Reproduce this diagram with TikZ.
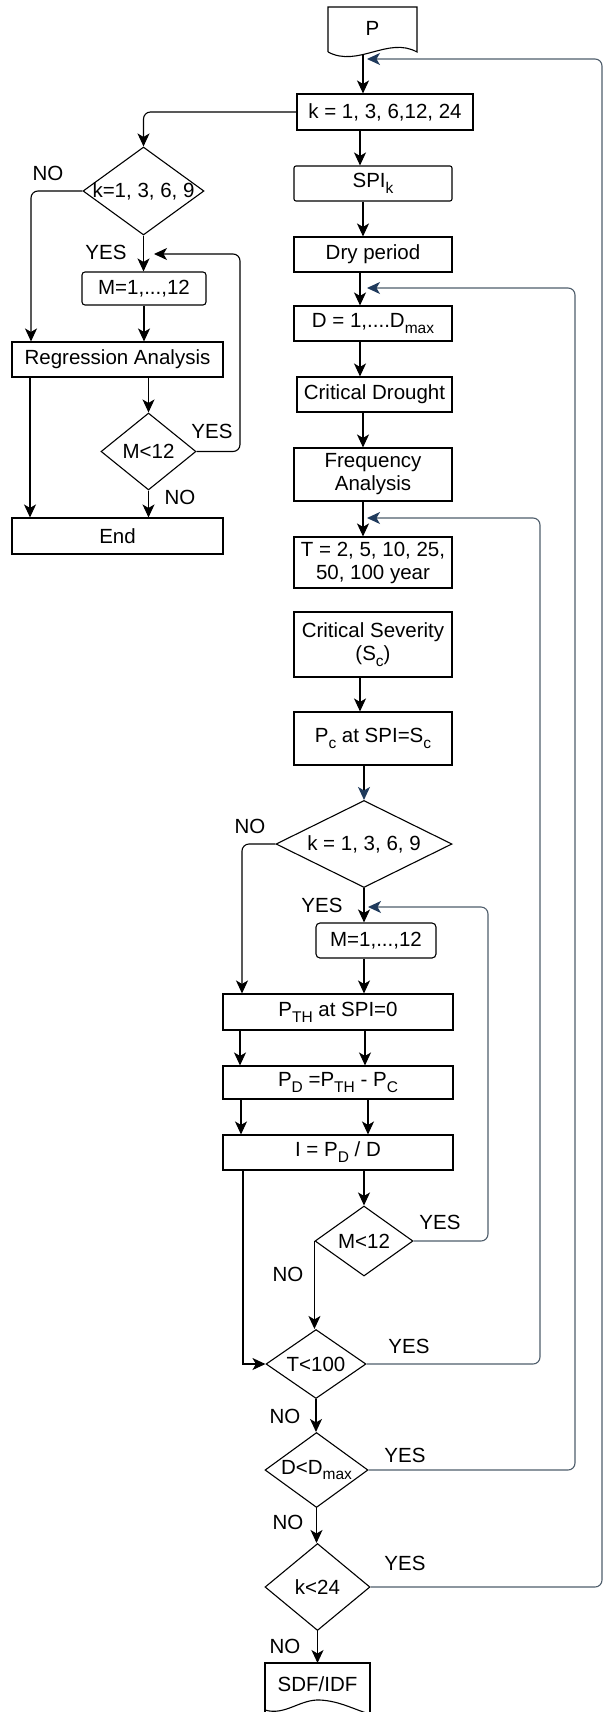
\documentclass[tikz,border=0pt]{standalone}
\usepackage{fontspec}
\setmainfont{Liberation Sans}
\usetikzlibrary{arrows.meta,shapes.geometric}
\definecolor{loopcol}{HTML}{4E5D6B}
\definecolor{tipcol}{HTML}{1F3A5C}
\newcommand{\lowsub}[1]{\raisebox{-0.55ex}{\fontsize{15.5}{15.5}\selectfont #1}}
\tikzset{
 base/.style={font=\fontsize{20.5}{23}\selectfont, inner sep=0pt, align=center},
 box/.style={base, draw, line width=1.1pt, rectangle},
 rbox/.style={box, rounded corners=3pt},
 dia/.style={base, draw, line width=1.1pt, diamond, shape aspect=1},
 lbl/.style={base},
 arr/.style={line width=1.1pt, -{Stealth[length=13pt,width=12pt,inset=3.5pt]}},
 bluearr/.style={line width=1.1pt, -{Stealth[length=13pt,width=12pt,inset=3.5pt,color=tipcol]}},
 loopln/.style={line width=1.1pt, draw=loopcol, rounded corners=7pt, -{Stealth[length=13pt,width=12pt,inset=3.5pt,color=tipcol]}},
 docline/.style={line width=1.1pt},
}
\begin{document}
\begin{tikzpicture}[x=1pt,y=-1pt]
\useasboundingbox (0,0) rectangle (603,1712);
% ---------- right column ----------
\draw[docline] (328,52) -- (328,7) -- (417,7) -- (417,52) .. controls (388,36) and (358,68) .. (328,52);
\node[base] (P) at (372.5,28) {P};
\coordinate (pb) at (363,54);
\node[box, minimum width=176pt, minimum height=36pt] (k) at (385,112) {k = 1, 3, 6,12, 24};
\node[rbox, rounded corners=2pt, minimum width=158pt, minimum height=35pt] (spi) at (373,183.5) {SPI\lowsub{k}};
\node[box, minimum width=158pt, minimum height=35pt] (dry) at (373,254.5) {Dry period};
\node[box, minimum width=158pt, minimum height=35pt] (D) at (373,323.5) {D = 1,....D\lowsub{max}};
\node[box, minimum width=155pt, minimum height=35pt] (cd) at (374.5,394.5) {Critical Drought};
\node[box, minimum width=158pt, minimum height=53pt] (freq) at (373,474.5) {Frequency\\Analysis};
\node[box, minimum width=158pt, minimum height=51pt] (T) at (373,562.5) {T = 2, 5, 10, 25,\\50, 100 year};
\node[box, minimum width=158pt, minimum height=65pt] (cs) at (373,644.5) {Critical Severity\\(S\lowsub{c})};
\node[box, minimum width=158pt, minimum height=53pt] (pc) at (373,738.5) {P\lowsub{c} at SPI=S\lowsub{c}};
\node[dia, minimum width=176pt, minimum height=87pt] (d2) at (364,844) {\makebox[0pt]{k = 1, 3, 6, 9}};
\node[rbox, rounded corners=4pt, minimum width=120pt, minimum height=35pt] (m2) at (376,940.5) {M=1,...,12};
\node[box, minimum width=230pt, minimum height=36pt] (pth) at (338,1012) {P\lowsub{TH} at SPI=0};
\node[box, minimum width=230pt, minimum height=33pt] (pd) at (338,1082.5) {P\lowsub{D} =P\lowsub{TH} - P\lowsub{C}};
\node[box, minimum width=230pt, minimum height=35pt] (I) at (338,1152.5) {I = P\lowsub{D} / D};
\node[dia, minimum width=98pt, minimum height=70pt] (m12b) at (364,1241) {\makebox[0pt]{M<12}};
\node[dia, minimum width=100pt, minimum height=69pt] (t100) at (316,1364) {\makebox[0pt]{T<100}};
\node[dia, minimum width=103pt, minimum height=75pt] (dmax) at (316.5,1470) {\makebox[0pt]{D<D\lowsub{max}}};
\node[dia, minimum width=105pt, minimum height=87pt] (k24) at (317.5,1587) {\makebox[0pt]{k<24}};
\draw[docline] (265,1712) -- (265,1663) -- (370,1663) -- (370,1716);
\draw[docline] (265,1710) .. controls (285,1716) and (300,1699) .. (320,1700) .. controls (340,1701) and (355,1710) .. (370,1714);
\node[base] (sdf) at (317.5,1684) {SDF/IDF};
\coordinate (sdftop) at (317.5,1663);
% ---------- left column ----------
\node[dia, minimum width=121pt, minimum height=88pt] (d1) at (143.5,191) {\makebox[0pt]{k=1, 3, 6, 9}};
\node[rbox, rounded corners=3pt, minimum width=124pt, minimum height=33pt] (m1) at (144,288.5) {M=1,...,12};
\node[box, minimum width=211pt, minimum height=35pt] (reg) at (117.5,359.5) {Regression Analysis};
\node[dia, minimum width=95pt, minimum height=77pt] (m12a) at (148.5,451.5) {\makebox[0pt]{M<12}};
\node[box, minimum width=211pt, minimum height=36pt] (End) at (117.5,536) {End};
% ---------- labels ----------
\node[lbl] (l1) at (48,173) {NO};
\node[lbl] (l2) at (106,252) {YES};
\node[lbl] (l3) at (212,431) {YES};
\node[lbl] (l4) at (180,497) {NO};
\node[lbl] (l5) at (250,826) {NO};
\node[lbl] (l6) at (322,905) {YES};
\node[lbl] (l7) at (440,1222) {YES};
\node[lbl] (l8) at (288,1274) {NO};
\node[lbl] (l9) at (409,1346) {YES};
\node[lbl] (l10) at (285,1416) {NO};
\node[lbl] (l11) at (405,1455) {YES};
\node[lbl] (l12) at (288,1522) {NO};
\node[lbl] (l13) at (405,1563) {YES};
\node[lbl] (l14) at (285,1646) {NO};
% ---------- junction coordinates ----------
\coordinate (j0) at (367,59);
\coordinate (j1) at (367,288);
\coordinate (j2) at (367,518);
\coordinate (j3) at (368,907);
\coordinate (j4) at (154,254);
% ---------- right connectors ----------
\draw[arr] (pb) -- (pb |- k.north);
\draw[arr, rounded corners=7pt] (k.west) -| (d1.north);
\coordinate (a1) at ([xshift=-25pt]k.south);
\draw[arr] (a1) -- (a1 |- spi.north);
\coordinate (a2) at ([xshift=-10pt]spi.south);
\draw[arr] (a2) -- (a2 |- dry.north);
\coordinate (a3) at ([xshift=-13pt]dry.south);
\draw[arr] (a3) -- (a3 |- D.north);
\coordinate (a4) at ([xshift=-13pt]D.south);
\draw[arr] (a4) -- (a4 |- cd.north);
\coordinate (a5) at ([xshift=-11.5pt]cd.south);
\draw[arr] (a5) -- (a5 |- freq.north);
\coordinate (a6) at ([xshift=-10pt]freq.south);
\draw[arr] (a6) -- (a6 |- T.north);
\coordinate (a7) at ([xshift=-13pt]cs.south);
\draw[arr] (a7) -- (a7 |- pc.north);
\draw[bluearr] (d2.north |- pc.south) -- (d2.north);
\draw[arr] (d2.south) -- (d2.south |- m2.north);
\draw[arr, rounded corners=7pt] (d2.west) -| ([xshift=-96pt]pth.north);
\draw[arr] (d2.south |- m2.south) -- (d2.south |- pth.north);
\draw[arr] ([xshift=-98pt]pth.south) -- ([xshift=-98pt]pd.north);
\draw[arr] ([xshift=27pt]pth.south) -- ([xshift=27pt]pd.north);
\draw[arr] ([xshift=-97pt]pd.south) -- ([xshift=-97pt]I.north);
\draw[arr] ([xshift=30pt]pd.south) -- ([xshift=30pt]I.north);
\draw[arr] ([xshift=-95pt]I.south) |- (t100.west);
\draw[arr] (m12b.north |- I.south) -- (m12b.north);
\draw[arr] (m12b.west) -- (m12b.west |- t100.north);
\draw[arr] (t100.south) -- (t100.south |- dmax.north);
\draw[arr] (dmax.south) -- (dmax.south |- k24.north);
\draw[arr] (k24.south) -- (k24.south |- sdftop);
% ---------- loops ----------
\draw[loopln] (k24.east) -| (602,59) -- (j0);
\draw[loopln] (dmax.east) -| (575,288) -- (j1);
\draw[loopln] (t100.east) -| (540,518) -- (j2);
\draw[loopln] (m12b.east) -| (488,907) -- (j3);
% ---------- left connectors ----------
\draw[arr] (d1.south) -- (d1.south |- m1.north);
\draw[arr, rounded corners=7pt] (d1.west) -| ([xshift=-86.5pt]reg.north);
\draw[arr] (m1.south) -- (m1.south |- reg.north);
\draw[arr] (m12a.north |- reg.south) -- (m12a.north);
\draw[arr] ([xshift=-87.5pt]reg.south) -- ([xshift=-87.5pt]End.north);
\draw[arr] (m12a.south) -- (m12a.south |- End.north);
\draw[arr, rounded corners=7pt] (m12a.east) -| (240,254) -- (j4);
\end{tikzpicture}
\end{document}
